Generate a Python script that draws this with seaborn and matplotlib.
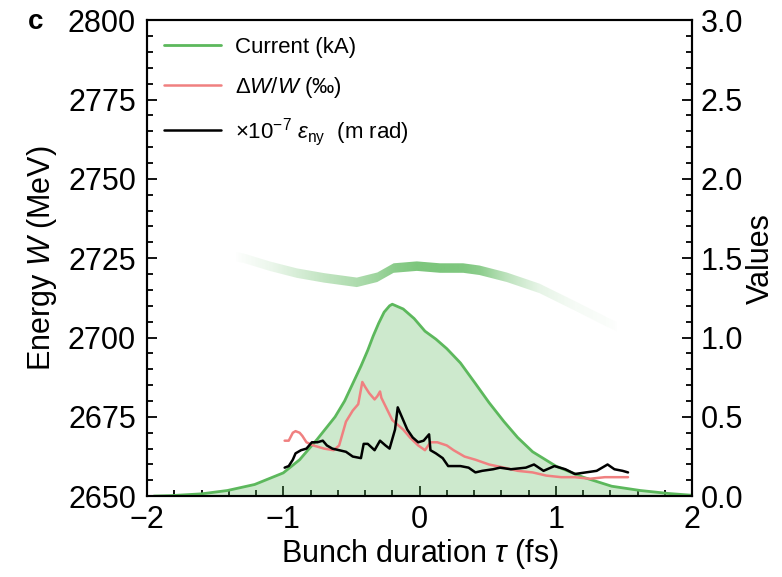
import matplotlib
matplotlib.use('Agg')
import matplotlib.pyplot as plt
import seaborn as sns
import numpy as np
from matplotlib.colors import to_rgb
from matplotlib.ticker import MultipleLocator

# current profile (kA), right axis
tau_current = [-1.95, -1.82, -1.6, -1.41, -1.21, -1.0, -0.88, -0.75, -0.62, -0.55, -0.49,
               -0.43, -0.38, -0.34, -0.30, -0.26, -0.22, -0.20, -0.12, -0.04, 0.04, 0.12,
               0.20, 0.30, 0.41, 0.51, 0.62, 0.72, 0.83, 1.0, 1.2, 1.41, 1.62, 1.83, 2.0]
current_ka = [0.001, 0.004, 0.015, 0.036, 0.074, 0.147, 0.23, 0.36, 0.50, 0.60, 0.71,
              0.82, 0.92, 1.01, 1.09, 1.16, 1.20, 1.21, 1.18, 1.12, 1.04, 0.99,
              0.93, 0.84, 0.71, 0.59, 0.47, 0.37, 0.28, 0.19, 0.12, 0.063, 0.036, 0.017, 0.006]

# relative energy spread (permille)
tau_spread = [-0.99, -0.96, -0.93, -0.91, -0.88, -0.86, -0.83, -0.78, -0.70, -0.63, -0.59,
              -0.57, -0.54, -0.49, -0.45, -0.42, -0.40, -0.37, -0.33, -0.31, -0.29, -0.28,
              -0.24, -0.20, -0.16, -0.12, -0.07, -0.01, 0.04, 0.08, 0.13, 0.20, 0.25,
              0.33, 0.41, 0.51, 0.62, 0.72, 0.83, 0.93, 1.04, 1.14, 1.25, 1.36, 1.46, 1.53]
spread_permille = [0.35, 0.35, 0.40, 0.41, 0.40, 0.38, 0.34, 0.32, 0.30, 0.29, 0.32,
                   0.38, 0.47, 0.54, 0.58, 0.72, 0.69, 0.65, 0.61, 0.63, 0.66, 0.62,
                   0.55, 0.48, 0.45, 0.42, 0.37, 0.32, 0.29, 0.34, 0.34, 0.32, 0.29,
                   0.25, 0.23, 0.20, 0.18, 0.16, 0.15, 0.13, 0.12, 0.12, 0.11, 0.12, 0.12, 0.12]

# slice emittance (x1e-7 m rad)
tau_emit = [-0.99, -0.96, -0.93, -0.91, -0.87, -0.83, -0.79, -0.75, -0.71, -0.68, -0.64,
            -0.59, -0.54, -0.49, -0.43, -0.41, -0.38, -0.33, -0.29, -0.25, -0.22, -0.18,
            -0.16, -0.13, -0.09, -0.05, -0.01, 0.03, 0.07, 0.08, 0.12, 0.17, 0.21, 0.25,
            0.30, 0.36, 0.41, 0.46, 0.54, 0.59, 0.67, 0.78, 0.84, 0.91, 0.99, 1.07, 1.14,
            1.22, 1.30, 1.38, 1.43, 1.49, 1.53]
emit_scaled = [0.18, 0.19, 0.23, 0.27, 0.29, 0.30, 0.34, 0.34, 0.35, 0.32, 0.30,
               0.29, 0.28, 0.25, 0.24, 0.33, 0.33, 0.29, 0.35, 0.32, 0.30, 0.42,
               0.56, 0.50, 0.42, 0.37, 0.34, 0.35, 0.39, 0.29, 0.27, 0.24, 0.19, 0.19,
               0.19, 0.18, 0.15, 0.16, 0.17, 0.18, 0.17, 0.18, 0.20, 0.16, 0.19, 0.17, 0.14,
               0.15, 0.16, 0.20, 0.17, 0.16, 0.15]

# longitudinal phase space band (MeV), left axis
tau_band = [-1.35, -1.29, -1.1, -0.90, -0.7, -0.46, -0.31, -0.19, -0.02, 0.15, 0.32,
            0.44, 0.64, 0.88, 1.13, 1.38, 1.45]
energy_band = [2725.5, 2725.0, 2722.5, 2720.3, 2718.8, 2717.4, 2719.0, 2721.9, 2722.5,
               2721.9, 2721.9, 2721.2, 2719.0, 2715.5, 2710.2, 2704.8, 2703.4]
band_density = [0.01, 0.04, 0.12, 0.25, 0.38, 0.5, 0.6, 0.72, 0.8, 0.8, 0.78,
                0.7, 0.4, 0.15, 0.06, 0.03, 0.01]

green = '#5cb85c'
red = '#f08080'

sns.set_style('ticks')
plt.rcParams['font.family'] = ['Liberation Sans', 'DejaVu Sans']
plt.rcParams['mathtext.fontset'] = 'custom'
plt.rcParams['mathtext.rm'] = 'Liberation Sans'
plt.rcParams['mathtext.it'] = 'Liberation Sans:italic'
plt.rcParams['axes.linewidth'] = 1.5
for k in ['text.color', 'axes.labelcolor', 'xtick.color', 'ytick.color', 'axes.edgecolor']:
    plt.rcParams[k] = 'black'

fig, ax = plt.subplots(figsize=(7.82, 5.77), dpi=100)
fig.subplots_adjust(left=0.188, right=0.885, top=0.965, bottom=0.140)
ax2 = ax.twinx()

# phase space band: shape from the band outline, shading from the density list
half = 1.5
lower = [e - half for e in energy_band]
upper = [e + half for e in energy_band]
band = ax.fill_between(tau_band, lower, upper, color='none', lw=0)
xs = np.linspace(tau_band[0], tau_band[-1], 300)
img = np.zeros((1, len(xs), 4))
img[..., :3] = to_rgb(green)
img[0, :, 3] = np.interp(xs, tau_band, band_density)
im = ax.imshow(img, extent=[tau_band[0], tau_band[-1], 2695, 2735], aspect='auto',
               interpolation='bilinear', zorder=1)
im.set_clip_path(band.get_paths()[0], transform=ax.transData)

ax2.fill_between(tau_current, current_ka, 0, color=green, alpha=0.3, lw=0)
sns.lineplot(x=tau_current, y=current_ka, ax=ax2, color=green, lw=2, label='Current (kA)')
sns.lineplot(x=tau_spread, y=spread_permille, ax=ax2, color=red, lw=1.8,
             label='Δ$W$/$W$ (‰)')
sns.lineplot(x=tau_emit, y=emit_scaled, ax=ax2, color='black', lw=1.8,
             label='×10$^{-7}$ $\\epsilon_{\\rm ny}$  (m rad)')

ax.set_xlim(-2, 2)
ax.set_ylim(2650, 2800)
ax2.set_ylim(0, 3.0)

ax.xaxis.set_major_locator(MultipleLocator(1))
ax.xaxis.set_minor_locator(MultipleLocator(0.2))
ax.yaxis.set_major_locator(MultipleLocator(25))
ax.yaxis.set_minor_locator(MultipleLocator(5))
ax2.yaxis.set_major_locator(MultipleLocator(0.5))
ax2.yaxis.set_minor_locator(MultipleLocator(0.1))

ax.tick_params(which='both', direction='in', top=False, right=False, width=1.3)
ax.tick_params(which='major', length=7, labelsize=22)
ax.tick_params(which='minor', length=4)
ax.tick_params(axis='y', pad=8)
ax.tick_params(axis='x', pad=6)
ax2.tick_params(which='both', direction='in', width=1.3, top=False, bottom=False,
                left=False, labeltop=False)
ax2.tick_params(which='major', length=7, labelsize=22, pad=6)
ax2.tick_params(which='minor', length=4)

ax.set_xlabel('Bunch duration $\\tau$ (fs)', fontsize=22, labelpad=2)
ax.set_ylabel('Energy $W$ (MeV)', fontsize=22, labelpad=6)
ax2.set_ylabel('Values', fontsize=22, labelpad=2)

ax2.legend(loc='upper left', frameon=False, fontsize=16, handlelength=2.6,
           labelspacing=0.75, borderaxespad=0.35, handletextpad=0.6)

fig.text(0.036, 0.962, 'c', fontsize=20, fontweight='bold', va='center')

fig.savefig('out.png', dpi=100)
